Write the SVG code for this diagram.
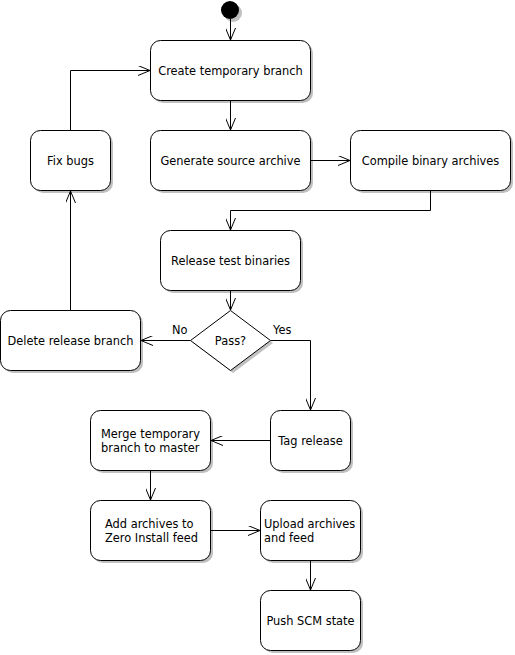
<svg xmlns="http://www.w3.org/2000/svg" width="515" height="655" viewBox="0 0 515 655">
<style>
.box{fill:#fff;stroke:#000;stroke-width:1}
.sh{fill:#c0c0c0;stroke:none}
.t{font-family:"DejaVu Sans",sans-serif;font-size:11.4px;fill:#000}
.c{text-anchor:middle}
.ln{fill:none;stroke:#000;stroke-width:1}
</style>
<defs>
<marker id="a" viewBox="0 0 12 10" refX="12" refY="5" markerWidth="12" markerHeight="10" markerUnits="userSpaceOnUse" orient="auto">
<path d="M0,0 L12,5 L0,10" fill="none" stroke="#000" stroke-width="1"/>
</marker>
</defs>
<rect width="515" height="655" fill="#fff"/>
<g id="start"><circle class="sh" cx="233" cy="13" r="9"/><circle cx="230" cy="10" r="9" fill="#000"/></g>
<g id="create"><rect class="sh" x="153" y="43" width="160" height="60" rx="10"/><rect class="box" x="150.5" y="40.5" width="160" height="60" rx="10"/><text class="t c" x="230.5" y="75">Create temporary branch</text></g>
<g id="generate"><rect class="sh" x="153" y="133" width="160" height="60" rx="10"/><rect class="box" x="150.5" y="130.5" width="160" height="60" rx="10"/><text class="t c" x="230.5" y="165">Generate source archive</text></g>
<g id="compile"><rect class="sh" x="353" y="133" width="160" height="60" rx="10"/><rect class="box" x="350.5" y="130.5" width="160" height="60" rx="10"/><text class="t c" x="430.5" y="165">Compile binary archives</text></g>
<g id="fix"><rect class="sh" x="33" y="133" width="80" height="60" rx="10"/><rect class="box" x="30.5" y="130.5" width="80" height="60" rx="10"/><text class="t c" x="70.5" y="165">Fix bugs</text></g>
<g id="release"><rect class="sh" x="163" y="233" width="140" height="60" rx="10"/><rect class="box" x="160.5" y="230.5" width="140" height="60" rx="10"/><text class="t c" x="230.5" y="265">Release test binaries</text></g>
<g id="pass"><path class="sh" d="M193,343 L233,313 L273,343 L233,373 Z"/><path class="box" d="M190.5,340.5 L230.5,310.5 L270.5,340.5 L230.5,370.5 Z"/><text class="t c" x="230.5" y="345">Pass?</text></g>
<g id="delete"><rect class="sh" x="3" y="313" width="140" height="60" rx="10"/><rect class="box" x="0.5" y="310.5" width="140" height="60" rx="10"/><text class="t c" x="70.5" y="345">Delete release branch</text></g>
<g id="tag"><rect class="sh" x="273" y="413" width="80" height="60" rx="10"/><rect class="box" x="270.5" y="410.5" width="80" height="60" rx="10"/><text class="t c" x="310.5" y="445">Tag release</text></g>
<g id="merge"><rect class="sh" x="93" y="413" width="120" height="60" rx="10"/><rect class="box" x="90.5" y="410.5" width="120" height="60" rx="10"/><text class="t" x="101" y="437.5">Merge temporary</text><text class="t" x="101" y="452">branch to master</text></g>
<g id="add"><rect class="sh" x="93" y="503" width="120" height="60" rx="10"/><rect class="box" x="90.5" y="500.5" width="120" height="60" rx="10"/><text class="t" x="105" y="527.5">Add archives to</text><text class="t" x="105" y="542">Zero Install feed</text></g>
<g id="upload"><rect class="sh" x="263" y="503" width="100" height="60" rx="10"/><rect class="box" x="260.5" y="500.5" width="100" height="60" rx="10"/><text class="t" x="264" y="527.5">Upload archives</text><text class="t" x="264" y="542">and feed</text></g>
<g id="push"><rect class="sh" x="263" y="593" width="100" height="60" rx="10"/><rect class="box" x="260.5" y="590.5" width="100" height="60" rx="10"/><text class="t c" x="310.5" y="625">Push SCM state</text></g>
<g id="connectors">
<path class="ln" marker-end="url(#a)" d="M230.5,19 V40"/>
<path class="ln" marker-end="url(#a)" d="M230.5,100.5 V130"/>
<path class="ln" marker-end="url(#a)" d="M310.5,160.5 H350"/>
<path class="ln" marker-end="url(#a)" d="M430.5,190.5 V210.5 H230.5 V230"/>
<path class="ln" marker-end="url(#a)" d="M230.5,290.5 V310"/>
<path class="ln" marker-end="url(#a)" d="M190.5,340.5 H141"/>
<path class="ln" marker-end="url(#a)" d="M70.5,310.5 V191"/>
<path class="ln" marker-end="url(#a)" d="M70.5,130.5 V70.5 H150"/>
<path class="ln" marker-end="url(#a)" d="M270.5,340.5 H310.5 V410"/>
<path class="ln" marker-end="url(#a)" d="M270.5,440.5 H211"/>
<path class="ln" marker-end="url(#a)" d="M150.5,470.5 V500"/>
<path class="ln" marker-end="url(#a)" d="M210.5,530.5 H260"/>
<path class="ln" marker-end="url(#a)" d="M310.5,560.5 V590"/>
<text class="t" x="172" y="334">No</text>
<text class="t" x="273" y="334">Yes</text>
</g>
</svg>
